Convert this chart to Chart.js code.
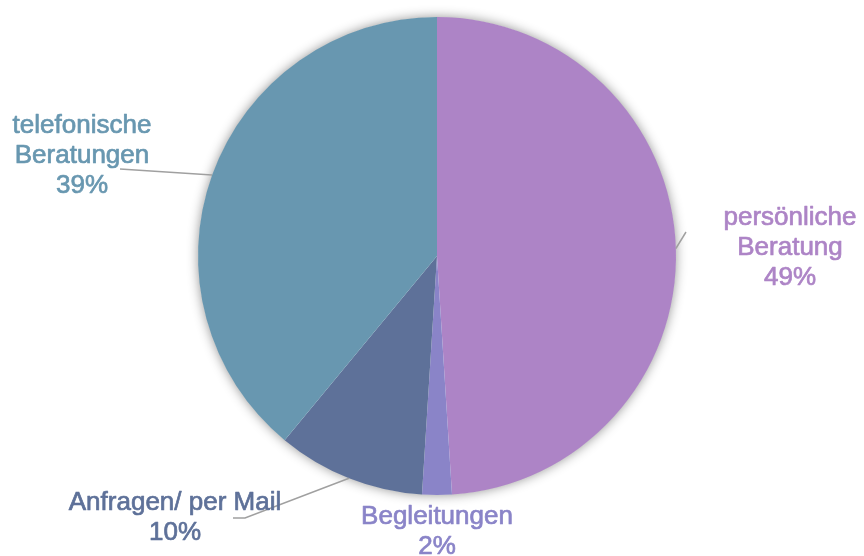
<!DOCTYPE html>
<html>
<head>
<meta charset="utf-8">
<script src="https://cdn.jsdelivr.net/npm/chart.js@4/dist/chart.umd.min.js"></script>
<style>
  html, body { margin: 0; padding: 0; background: #ffffff; }
  #wrap { width: 864px; height: 556px; }
</style>
</head>
<body>
<div id="wrap"><canvas id="c" width="864" height="556"></canvas></div>
<script>
// ---- data ----
const categories = ['persönliche Beratung', 'Begleitungen', 'Anfragen/ per Mail', 'telefonische Beratungen'];
const labelLines = [['persönliche', 'Beratung'], ['Begleitungen'], ['Anfragen/ per Mail'], ['telefonische', 'Beratungen']];
const values = [49, 2, 10, 39];

// ---- styles ----
const sliceColors = ['#AD84C6', '#8A84C8', '#5E7199', '#6897B0'];
// label placement (text centre x, first baseline y, leader end points)
const labelPlacement = [
  { x: 790, y: 225, leader: [[686, 232]] },
  { x: 437, y: 524, leader: null },
  { x: 175, y: 510, leader: [[245, 518], [233, 518]] },
  { x: 82,  y: 133, leader: [[120, 169]] }
];

const shadowPlugin = {
  id: 'pieShadow',
  beforeDatasetsDraw(chart) {
    const arc = chart.getDatasetMeta(0).data[0];
    if (!arc) return;
    const ctx = chart.ctx;
    ctx.save();
    ctx.shadowColor = 'rgba(0,0,0,0.45)';
    ctx.shadowBlur = 12;
    ctx.shadowOffsetX = 0;
    ctx.shadowOffsetY = 0;
    ctx.fillStyle = '#ffffff';
    ctx.beginPath();
    ctx.arc(arc.x, arc.y, arc.outerRadius - 0.5, 0, Math.PI * 2);
    ctx.fill();
    ctx.restore();
  }
};

const labelPlugin = {
  id: 'outerLabels',
  afterDatasetsDraw(chart) {
    const ctx = chart.ctx;
    const meta = chart.getDatasetMeta(0);
    const total = values.reduce((a, b) => a + b, 0);
    meta.data.forEach((arc, i) => {
      const p = labelPlacement[i];
      const mid = (arc.startAngle + arc.endAngle) / 2;
      const ex = arc.x + Math.cos(mid) * arc.outerRadius;
      const ey = arc.y + Math.sin(mid) * arc.outerRadius;
      if (p.leader) {
        ctx.save();
        ctx.strokeStyle = '#A0A0A0';
        ctx.lineWidth = 1.5;
        ctx.beginPath();
        ctx.moveTo(ex, ey);
        p.leader.forEach(pt => ctx.lineTo(pt[0], pt[1]));
        ctx.stroke();
        ctx.restore();
      }
      const lines = labelLines[i].concat([Math.round(values[i] / total * 100) + '%']);
      ctx.save();
      ctx.fillStyle = sliceColors[i];
      ctx.strokeStyle = sliceColors[i];
      ctx.lineWidth = 0.7;
      ctx.lineJoin = 'round';
      ctx.font = '26px "Liberation Sans", Arial, sans-serif';
      ctx.textAlign = 'center';
      ctx.textBaseline = 'alphabetic';
      lines.forEach((t, k) => {
        ctx.fillText(t, p.x, p.y + k * 30);
        ctx.strokeText(t, p.x, p.y + k * 30);
      });
      ctx.restore();
    });
  }
};

new Chart(document.getElementById('c'), {
  type: 'pie',
  data: {
    labels: categories,
    datasets: [{
      data: values,
      backgroundColor: sliceColors,
      borderWidth: 0
    }]
  },
  options: {
    responsive: false,
    animation: false,
    layout: { padding: { top: 17, bottom: 61, left: 10, right: 0 } },
    plugins: {
      legend: { display: false },
      tooltip: { enabled: false }
    }
  },
  plugins: [shadowPlugin, labelPlugin]
});
</script>
</body>
</html>
